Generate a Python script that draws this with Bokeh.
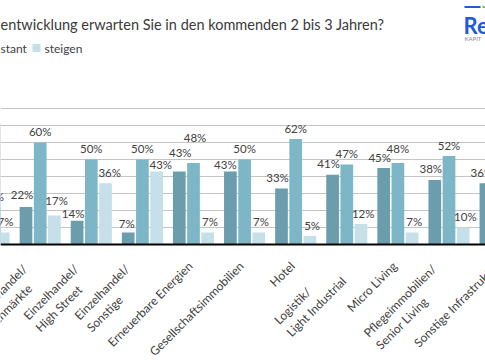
import math
import glob
import subprocess

from bokeh.plotting import figure
from bokeh.models import Range1d, FixedTicker, Span
from bokeh.core.properties import value
from bokeh.embed import file_html
from bokeh.resources import INLINE

# ---------------- data ----------------
categories = [
    "Büro",
    "Einzelhandel/\nFachmärkte",
    "Einzelhandel/\nHigh Street",
    "Einzelhandel/\nSonstige",
    "Erneuerbare Energien",
    "Gesellschaftsimmobilien",
    "Hotel",
    "Logistik/\nLight Industrial",
    "Micro Living",
    "Pflegeimmobilien/\nSenior Living",
    "Sonstige Infrastruktur",
]
sinken = [71, 22, 14, 7, 43, 43, 33, 41, 45, 38, 36]
konstant = [22, 60, 50, 50, 48, 50, 62, 47, 48, 52, 55]
steigen = [7, 17, 36, 43, 7, 7, 5, 12, 7, 10, 9]
grid_ticks = [10, 20, 30, 40, 50, 60, 70, 80]
title_text = "entwicklung erwarten Sie in den kommenden 2 bis 3 Jahren?"
legend_fragment = "stant"
legend_label = "steigen"
logo_text = "Re"
logo_sub = "KAPIT"

# ---------------- style ----------------
COLORS = ["#6b9dac", "#7cb6c7", "#c5e0e8"]
TEXT = "#404040"
GRID = "#c4c4c4"
FONT = "Lato"

# ---------------- layout (pixel geometry) ----------------
W, H = 485, 360
GROUP_PX = 51.1          # px per category
REF_CENTER = 39.7        # px x of category index 1
BASE = 244.0             # px y of value 0
PX_PER_UNIT = 1.7        # px per percent
BAR_W_PX = 12.7
BAR_STEP_PX = 14.2
LABEL_GAP = 11.0         # px between bar top and label centre
LABEL_DX = [-4.0, 0.0, 2.2]
# Excel-style manual label nudges (category index, series index) -> (dx, dy) px
LABEL_NUDGE = {
    (0, 1): (3.5, 0.0),
    (1, 0): (0.0, 2.0), (1, 2): (0.0, 4.0),
    (2, 0): (0.0, -4.0), (2, 2): (2.0, 0.0),
    (3, 0): (2.5, -1.5), (3, 2): (2.0, -4.0),
    (4, 0): (5.0, 8.0), (4, 1): (1.5, 14.5),
    (5, 0): (-1.0, -4.0),
    (8, 1): (0.0, 3.5),
}


def xd(px):
    return 1 + (px - REF_CENTER) / GROUP_PX


def yd(py):
    return (BASE - py) / PX_PER_UNIT


def xpx(xdata):
    return REF_CENTER + (xdata - 1) * GROUP_PX


x0, x1 = xd(0), xd(W)
y1, y0 = yd(0), yd(H)

p = figure(width=W, height=H, x_range=Range1d(x0, x1), y_range=Range1d(y0, y1),
           output_backend="svg", toolbar_location=None, min_border=0)
p.xaxis.visible = False
p.yaxis.visible = False
p.outline_line_color = None
p.xgrid.visible = False
p.ygrid.ticker = FixedTicker(ticks=grid_ticks)
p.ygrid.grid_line_color = GRID
p.ygrid.grid_line_width = 1

idx = list(range(len(categories)))
bar_w = BAR_W_PX / GROUP_PX
step = BAR_STEP_PX / GROUP_PX
series = [sinken, konstant, steigen]

lab_x, lab_y, lab_t = [], [], []
for k, vals in enumerate(series):
    off = (k - 1) * step
    xs = [i + off for i in idx]
    p.vbar(x=xs, top=vals, bottom=0, width=bar_w, color=COLORS[k], line_color=None)
    for i, (xx, v) in enumerate(zip(xs, vals)):
        ndx, ndy = LABEL_NUDGE.get((i, k), (0.0, 0.0))
        sx = xpx(xx) + LABEL_DX[k] + ndx
        if sx + 12 < 0 or sx - 12 > W:
            continue  # label lies completely outside the visible crop
        lab_x.append(xd(sx))
        lab_y.append(v + (LABEL_GAP + ndy) / PX_PER_UNIT)
        lab_t.append(f"{v}%")

p.add_layout(Span(location=0, dimension="width", line_color="black", line_width=2))

p.text(x=lab_x, y=lab_y, text=lab_t, text_align="center", text_baseline="middle",
       text_font=value(FONT), text_font_size=value("11.5px"), text_color=TEXT)


# ---------------- category labels (rotated 45°) ----------------
def _font_file():
    try:
        out = subprocess.run(["fc-match", "-f", "%{file}", "Lato:style=Regular"],
                             capture_output=True, text=True, timeout=5).stdout.strip()
        if out and "lato" in out.lower():
            return out
    except Exception:
        pass
    for pat in ["/usr/share/fonts/**/Lato-Regular.ttf", "/usr/share/fonts/**/Lato*Regular*.ttf",
                "/usr/local/share/fonts/**/Lato*Regular*.ttf"]:
        found = glob.glob(pat, recursive=True)
        if found:
            return found[0]
    return None


CAT_SIZE = 12
_measure = None
try:
    from PIL import ImageFont
    _ff = _font_file()
    if _ff:
        _pil = ImageFont.truetype(_ff, CAT_SIZE * 10)
        _measure = lambda s: _pil.getlength(s) / 10.0
except Exception:
    _measure = None
if _measure is None:
    _measure = lambda s: len(s) * 0.5 * CAT_SIZE

TX, TY = -8.5, 14.0            # top-right corner of a one-line label, relative to tick / baseline
EXTRA_LINE_DX, EXTRA_LINE_DY = -12.0, 3.0   # additional shift per extra line
c = math.cos(math.pi / 4)
cx, cy, ct = [], [], []
for i, cat in enumerate(categories):
    lines = cat.split("\n")
    wmax = max(_measure(s) for s in lines)
    tick = xpx(i)
    tx = tick + TX + EXTRA_LINE_DX * (len(lines) - 1)
    ty = BASE + TY + EXTRA_LINE_DY * (len(lines) - 1)
    if tx < 0 or tx - c * wmax > W:
        continue  # label lies completely outside the visible crop
    lx = tx - c * wmax
    ly = ty + c * wmax
    cx.append(xd(lx))
    cy.append(yd(ly))
    ct.append(cat)

p.text(x=cx, y=cy, text=ct, angle=math.pi / 4, text_align="left", text_baseline="top",
       text_font=value(FONT), text_font_size=value(f"{CAT_SIZE}px"), text_color=TEXT,
       text_line_height=1.15)

# ---------------- title, legend, logo ----------------
p.text(x=[xd(0)], y=[yd(24)], text=[title_text], text_align="left", text_baseline="middle",
       text_font=value(FONT), text_font_size=value("14.5px"), text_color="#3a3a3a")

p.text(x=[xd(0)], y=[yd(47.5)], text=[legend_fragment], text_align="left", text_baseline="middle",
       text_font=value(FONT), text_font_size=value("12px"), text_color=TEXT)
p.quad(left=[xd(32)], right=[xd(40)], top=[yd(43.5)], bottom=[yd(51.5)], color=COLORS[2], line_color=None)
p.text(x=[xd(44)], y=[yd(47.5)], text=[legend_label], text_align="left", text_baseline="middle",
       text_font=value(FONT), text_font_size=value("12px"), text_color=TEXT)

p.text(x=[xd(463)], y=[yd(25)], text=[logo_text], text_align="left", text_baseline="middle",
       text_font=value(FONT), text_font_style="bold", text_font_size=value("22px"), text_color="#1f5bd6")
p.segment(x0=[xd(464)], y0=[yd(6.5)], x1=[xd(480)], y1=[yd(6.5)], line_color="#1f5bd6", line_width=2)
p.segment(x0=[xd(482)], y0=[yd(6.5)], x1=[xd(486)], y1=[yd(6.5)], line_color="#7cc242", line_width=2)
p.text(x=[xd(464)], y=[yd(38)], text=[logo_sub], text_align="left", text_baseline="middle",
       text_font=value(FONT), text_font_size=value("6px"), text_color="#8a8a8a")

open("out.html", "w").write(file_html(p, INLINE))
